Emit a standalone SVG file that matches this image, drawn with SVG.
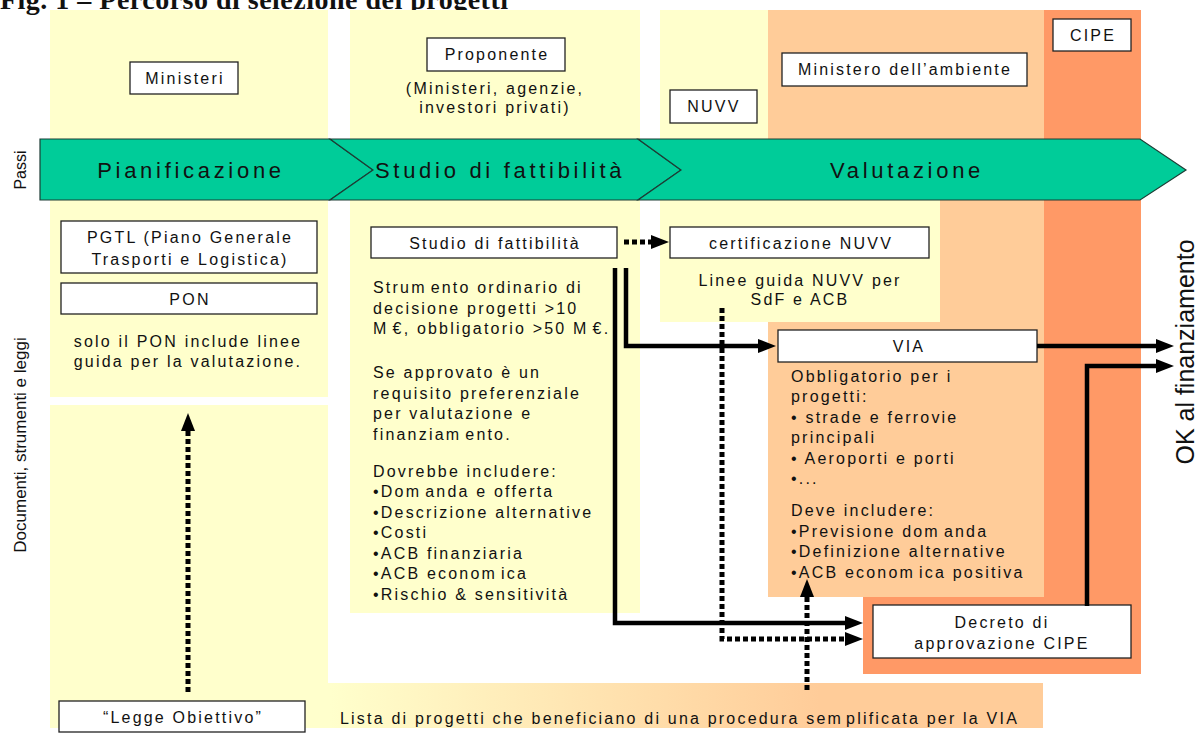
<svg xmlns="http://www.w3.org/2000/svg" width="1200" height="738" viewBox="0 0 1200 738">
<defs>
<style>
text{font-family:"Liberation Sans",Arial,Helvetica,sans-serif;fill:#111;}
.lbl{font-size:16px;letter-spacing:2.2px;}
.big{font-size:22px;letter-spacing:3.7px;}
.mid{text-anchor:middle;}
.box{fill:#fff;stroke:#222;stroke-width:1.3;}
.chev{fill:#00CC99;stroke:#1d3d35;stroke-width:1.2;}
.solid{fill:none;stroke:#000;stroke-width:4.5;}
.dot{fill:none;stroke:#000;stroke-width:5;stroke-dasharray:5 3;}
.side{font-size:16px;}
</style>
<marker id="ah" markerUnits="userSpaceOnUse" markerWidth="18" markerHeight="14" refX="8" refY="7" orient="auto">
<path d="M0,0 L18,7 L0,14 z" fill="#000"/>
</marker>
<linearGradient id="bandGrad" gradientUnits="userSpaceOnUse" x1="330" y1="0" x2="820" y2="0">
<stop offset="0" stop-color="#FFFFCC"/>
<stop offset="1" stop-color="#FFCC99"/>
</linearGradient>
</defs>

<rect width="1200" height="738" fill="#fff"/>

<g id="title">
<text x="0" y="9" style="font-family:'Liberation Serif','Times New Roman',serif;font-weight:bold;font-size:28px" textLength="508" lengthAdjust="spacing">Fig. 1 – Percorso di selezione dei progetti</text>
</g>

<g id="backgrounds">
<rect x="50" y="10" width="278" height="387" fill="#FFFFCC"/>
<rect x="50" y="405" width="278" height="300" fill="#FFFFCC"/>
<rect x="50" y="683" width="993" height="45" fill="url(#bandGrad)"/>
<rect x="350" y="10" width="290" height="603" fill="#FFFFCC"/>
<rect x="863" y="10" width="278" height="664" fill="#FF9966"/>
<rect x="768" y="10" width="276" height="587" fill="#FFCC99"/>
<rect x="660" y="10" width="108" height="190" fill="#FFFFCC"/>
<rect x="660" y="200" width="280" height="122" fill="#FFFFCC"/>
</g>

<g id="side-labels">
<text class="side mid" transform="translate(26,170) rotate(-90)">Passi</text>
<text class="side mid" style="font-size:17px" transform="translate(26,445) rotate(-90)">Documenti, strumenti e leggi</text>
<text class="mid" style="font-size:25px" transform="translate(1194,352) rotate(-90)">OK al finanziamento</text>
</g>

<g id="steps">
<g id="step-pianificazione">
<polygon class="chev" points="40,139 330,139 373,170 330,200 40,200"/>
<text class="big mid" x="191" y="178">Pianificazione</text>
</g>
<g id="step-studio">
<polygon class="chev" points="330,139 638,139 681,170 638,200 330,200 373,170"/>
<text class="big" x="375" y="178">Studio di fattibilità</text>
</g>
<g id="step-valutazione">
<polygon class="chev" points="638,139 1140,139 1186,170 1140,200 638,200 681,170"/>
<text class="big mid" x="907" y="178">Valutazione</text>
</g>
</g>

<g id="n-ministeri">
<rect class="box" x="130" y="62" width="108" height="32"/>
<text class="lbl mid" x="185" y="84">Ministeri</text>
</g>
<g id="n-proponente">
<rect class="box" x="427" y="38" width="138" height="33"/>
<text class="lbl mid" x="497" y="60">Proponente</text>
<text class="lbl mid" x="495" y="94">(Ministeri, agenzie,</text>
<text class="lbl mid" x="495" y="113">investori privati)</text>
</g>
<g id="n-nuvv">
<rect class="box" x="670" y="90" width="87" height="33"/>
<text class="lbl mid" x="714" y="112">NUVV</text>
</g>
<g id="n-ministero-ambiente">
<rect class="box" x="782" y="53" width="245" height="33"/>
<text class="lbl mid" x="905" y="75">Ministero dell’ambiente</text>
</g>
<g id="n-cipe">
<rect class="box" x="1053" y="19" width="78" height="32"/>
<text class="lbl mid" x="1093" y="41">CIPE</text>
</g>

<g id="n-pgtl">
<rect class="box" x="61" y="221" width="256" height="52"/>
<text class="lbl mid" x="190" y="243">PGTL (Piano Generale</text>
<text class="lbl mid" x="190" y="265">Trasporti e Logistica)</text>
</g>
<g id="n-pon">
<rect class="box" x="61" y="283" width="256" height="31"/>
<text class="lbl mid" x="190" y="305">PON</text>
<text class="lbl mid" x="188" y="347">solo il PON include linee</text>
<text class="lbl mid" x="188" y="367">guida per la valutazione.</text>
</g>

<g id="n-studio">
<rect class="box" x="371" y="227" width="246" height="31"/>
<text class="lbl mid" x="495" y="249">Studio di fattibilità</text>
<text class="lbl" x="373">
<tspan x="373" y="293">Strum<tspan dx="4">ento ordinario di</tspan></tspan>
<tspan x="373" y="314">decisione progetti &gt;10</tspan>
<tspan x="373" y="334">M<tspan dx="4">€, obbligatorio &gt;50 M</tspan><tspan dx="4">€.</tspan></tspan>
<tspan x="373" y="378">Se approvato è un</tspan>
<tspan x="373" y="399">requisito preferenziale</tspan>
<tspan x="373" y="419">per valutazione e</tspan>
<tspan x="373" y="440">finanziam<tspan dx="4">ento.</tspan></tspan>
<tspan x="373" y="477">Dovrebbe includere:</tspan>
<tspan x="373" y="497">•Dom<tspan dx="4">anda e offerta</tspan></tspan>
<tspan x="373" y="518">•Descrizione alternative</tspan>
<tspan x="373" y="538">•Costi</tspan>
<tspan x="373" y="559">•ACB finanziaria</tspan>
<tspan x="373" y="579">•ACB econom<tspan dx="4">ica</tspan></tspan>
<tspan x="373" y="600">•Rischio &amp; sensitività</tspan>
</text>
</g>

<g id="n-certificazione">
<rect class="box" x="670" y="227" width="259" height="31"/>
<text class="lbl mid" x="801" y="249">certificazione NUVV</text>
<text class="lbl mid" x="800" y="286">Linee guida NUVV per</text>
<text class="lbl mid" x="800" y="305">SdF e ACB</text>
</g>

<g id="n-via">
<rect class="box" x="778" y="330" width="259" height="32"/>
<text class="lbl mid" x="909" y="352">VIA</text>
<text class="lbl" x="791">
<tspan x="791" y="382">Obbligatorio per i</tspan>
<tspan x="791" y="402">progetti:</tspan>
<tspan x="791" y="423">• strade e ferrovie</tspan>
<tspan x="791" y="443">principali</tspan>
<tspan x="791" y="464">• Aeroporti e porti</tspan>
<tspan x="791" y="484">•...</tspan>
<tspan x="791" y="516">Deve includere:</tspan>
<tspan x="791" y="537">•Previsione dom<tspan dx="4">anda</tspan></tspan>
<tspan x="791" y="557">•Definizione alternative</tspan>
<tspan x="791" y="578">•ACB econom<tspan dx="4">ica positiva</tspan></tspan>
</text>
</g>

<g id="n-decreto">
<rect class="box" x="873" y="605" width="258" height="53"/>
<text class="lbl mid" x="1002" y="628">Decreto di</text>
<text class="lbl mid" x="1002" y="649">approvazione CIPE</text>
</g>

<g id="n-legge">
<rect class="box" x="59" y="701" width="246" height="31"/>
<text class="lbl mid" x="183" y="723">“Legge Obiettivo”</text>
<text class="lbl" x="340" y="724">Lista di progetti che beneficiano di una procedura sem<tspan dx="3">plificata per la VIA</tspan></text>
</g>

<g id="connectors">
<path class="dot" d="M624,242 H659" marker-end="url(#ah)"/>
<path class="solid" d="M626,268 V346 H766" marker-end="url(#ah)"/>
<path class="solid" d="M615,268 V623 H853" marker-end="url(#ah)"/>
<path class="dot" d="M722,308 V639 H853" marker-end="url(#ah)"/>
<path class="dot" d="M807,690 V589" marker-end="url(#ah)"/>
<path class="dot" d="M188,692 V423" marker-end="url(#ah)"/>
<path class="solid" d="M1037,346 H1164" marker-end="url(#ah)"/>
<path class="solid" d="M1087,606 V366 H1164" marker-end="url(#ah)"/>
</g>
</svg>
